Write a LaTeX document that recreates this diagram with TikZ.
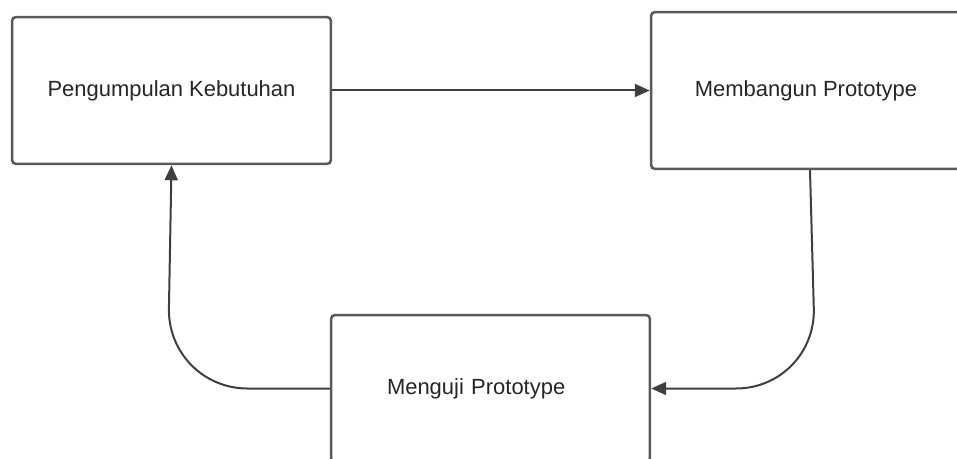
\documentclass[tikz,border=0pt]{standalone}
\usepackage{fontspec}
\setmainfont{Liberation Sans}
\usetikzlibrary{calc, arrows.meta, positioning}
\definecolor{boxgrey}{HTML}{595959}
\definecolor{linegrey}{HTML}{3F3F3F}
\definecolor{txtgrey}{HTML}{262626}

\begin{document}
\begin{tikzpicture}[x=0.02cm, y=-0.02cm,
    >={Triangle[length=0.3cm, width=0.26cm]},
    box/.style={draw=boxgrey, line width=0.05cm, rounded corners=0.08cm,
      fill=white, text=txtgrey, font=\fontsize{12.5}{15}\selectfont,
      minimum width=6.38cm, minimum height=2.94cm},
    flow/.style={draw=linegrey, line width=0.04cm, ->}]
    % --- Frame (boxes run off the right and bottom edge) ---
    \path[use as bounding box, clip] (0,0) rectangle (957,459);

    % --- Boxes ---
    \node[box] (kebutuhan) at (171.5,90.5) {Pengumpulan Kebutuhan};
    \node[box, minimum width=6.2cm, minimum height=3.14cm] (bangun) at (806,90.5)
      {Membangun Prototype};
    \node[box, text width=4.14cm, inner xsep=1.12cm, align=left] (uji) at (490.5,388.5)
      {Menguji Prototype};

    % --- Arrows ---
    \draw[flow] (kebutuhan.east) -- (bangun.west);
    \draw[flow, rounded corners=1.6cm] ([xshift=0.08cm]bangun.south)
      -- ($(bangun.south |- uji.east)+(10,0)$) -- (uji.east);
    \draw[flow, rounded corners=1.6cm] (uji.west)
      -- ($(kebutuhan.south |- uji.west)+(-4,0)$) -- (kebutuhan.south);
\end{tikzpicture}
\end{document}
